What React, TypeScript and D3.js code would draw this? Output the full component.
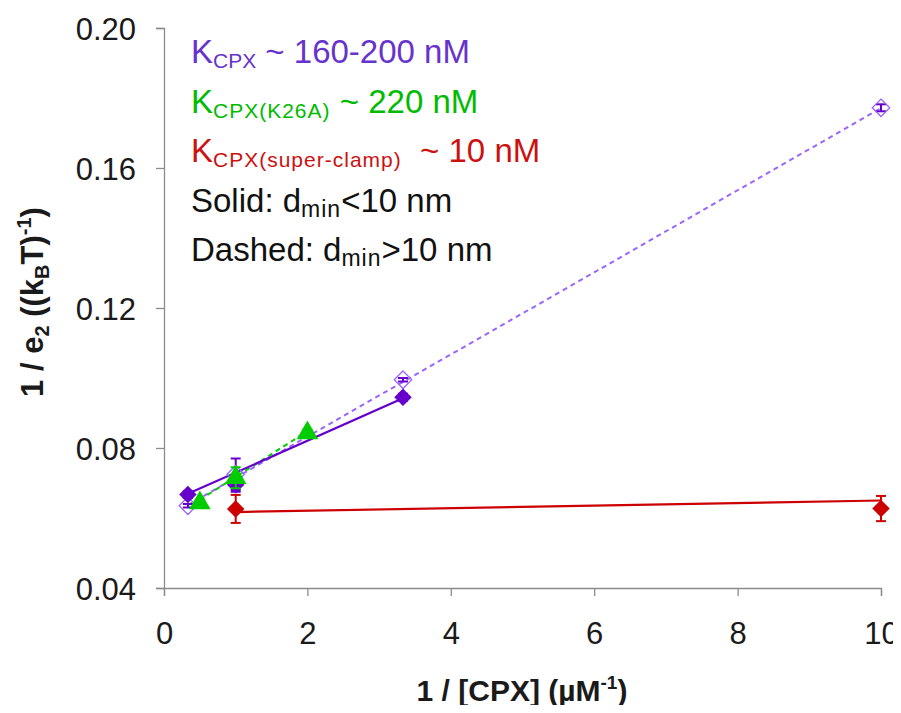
import React, { useRef, useEffect } from 'react'
import * as d3 from 'd3'

// 1/[CPX] values (uM^-1)
const wtX = [0.333, 1, 3.333]
const wtSolidY = [0.0667, 0.0695, 0.0945]
const wtSolidErr = [0.001, 0.002, 0.001]
const wtDashX = [0.333, 1, 3.333, 10]
const wtDashY = [0.0635, 0.0725, 0.0995, 0.1772]
const wtDashErr = [0.0005, 0.0045, 0.0005, 0.001]
const k26aX = [0.5, 1, 2]
const k26aY = [0.0643, 0.0715, 0.0843]
const k26aErr = [0.001, 0.003, 0.001]
const scX = [1, 10]
const scY = [0.0626, 0.0627]
const scErr = [0.004, 0.0036]

// trendline end points [x0, y0, x1, y1]
const wtSolidFit = [0.333, 0.0669, 3.333, 0.0942]
const wtDashFit = [0.333, 0.0637, 10, 0.1771]
const k26aFit = [0.5, 0.0652, 2, 0.0848]
const scFit = [1, 0.0617, 10, 0.0650]

const xTicks = [0, 2, 4, 6, 8, 10]
const yTicks = [0.04, 0.08, 0.12, 0.16, 0.2]

const PURPLE = '#6600cc'
const PURPLE_LIGHT = '#9966ff'
const GREEN = '#00cc00'
const RED = '#cc0000'

export default function App() {
    const ref = useRef<SVGSVGElement>(null)
    const w = 901
    const h = 713

    useEffect(() => {
        const svg = d3.select(ref.current)
        svg.selectAll('*').remove()

        const x = d3.scaleLinear().domain([0, 10]).range([164, 881])
        const y = d3.scaleLinear().domain([0.04, 0.2]).range([588, 28])
        const font = 'Liberation Sans, Arial, sans-serif'
        const axisColor = '#8c8c8c'

        // axes
        const xAxis = d3.axisBottom(x).tickValues(xTicks).tickSize(8).tickPadding(26).tickFormat(d3.format('d'))
        const gx = svg.append('g').attr('transform', 'translate(0,588)').call(xAxis)
        const yAxis = d3.axisLeft(y).tickValues(yTicks).tickSize(8).tickPadding(20).tickFormat(d3.format('.2f'))
        const gy = svg.append('g').attr('transform', 'translate(164,0)').call(yAxis)
        for (const g of [gx, gy]) {
            g.select('.domain').attr('stroke', axisColor).attr('stroke-width', 1.3)
            g.selectAll('.tick line').attr('stroke', axisColor).attr('stroke-width', 1.3)
            g.selectAll('.tick text')
                .attr('fill', '#1a1a1a')
                .style('font-family', font)
                .style('font-size', '31px')
        }
        gy.selectAll('.tick text').attr('dy', '0.36em')
        gx.selectAll('.tick text').attr('dy', '0.71em')

        // trendlines
        const fit = (f: number[], color: string, dash: string | null, width: number) => {
            const l = svg.append('line')
                .attr('x1', x(f[0])).attr('y1', y(f[1]))
                .attr('x2', x(f[2])).attr('y2', y(f[3]))
                .attr('stroke', color).attr('stroke-width', width)
            if (dash) l.attr('stroke-dasharray', dash)
        }
        fit(wtDashFit, PURPLE_LIGHT, '5,4', 2)
        fit(k26aFit, GREEN, '5,4', 2)
        fit(scFit, RED, null, 2.2)
        fit(wtSolidFit, PURPLE, null, 2.2)

        const errBars = (xs: number[], ys: number[], es: number[], color: string) => {
            xs.forEach((xv, i) => {
                const cx = x(xv)
                const g = svg.append('g').attr('stroke', color).attr('stroke-width', 2)
                g.append('line').attr('x1', cx).attr('x2', cx).attr('y1', y(ys[i] - es[i])).attr('y2', y(ys[i] + es[i]))
                g.append('line').attr('x1', cx - 5).attr('x2', cx + 5).attr('y1', y(ys[i] - es[i])).attr('y2', y(ys[i] - es[i]))
                g.append('line').attr('x1', cx - 5).attr('x2', cx + 5).attr('y1', y(ys[i] + es[i])).attr('y2', y(ys[i] + es[i]))
            })
        }

        const diamond = d3.symbol().type(d3.symbolDiamond2).size(195)
        const triangle = d3.symbol().type(d3.symbolTriangle).size(200)

        // open purple diamonds (dashed)
        errBars(wtDashX, wtDashY, wtDashErr, PURPLE)
        svg.selectAll('.open')
            .data(wtDashX)
            .enter()
            .append('path')
            .attr('d', diamond)
            .attr('transform', (d, i) => `translate(${x(d)},${y(wtDashY[i])})`)
            .attr('fill', 'none')
            .attr('stroke', PURPLE_LIGHT)
            .attr('stroke-width', 1.3)

        // super-clamp
        errBars(scX, scY, scErr, RED)
        svg.selectAll('.sc')
            .data(scX)
            .enter()
            .append('path')
            .attr('d', diamond)
            .attr('transform', (d, i) => `translate(${x(d)},${y(scY[i])})`)
            .attr('fill', RED)

        // filled purple
        errBars(wtX, wtSolidY, wtSolidErr, PURPLE)
        svg.selectAll('.wt')
            .data(wtX)
            .enter()
            .append('path')
            .attr('d', diamond)
            .attr('transform', (d, i) => `translate(${x(d)},${y(wtSolidY[i])})`)
            .attr('fill', PURPLE)

        // K26A triangles
        errBars(k26aX, k26aY, k26aErr, GREEN)
        svg.selectAll('.k26a')
            .data(k26aX)
            .enter()
            .append('path')
            .attr('d', triangle)
            .attr('transform', (d, i) => `translate(${x(d)},${y(k26aY[i])})`)
            .attr('fill', GREEN)

        // legend text: [text, subscript?, letter spacing]
        const legend = [
            { color: '#6633cc', parts: [['K', 0, 0], ['CPX', 1, 0], [' ~ 160-200 nM', 0, 0]] },
            { color: '#00bb00', parts: [['K', 0, 0], ['CPX(K26A)', 1, 1], [' ~ 220 nM', 0, 0]] },
            { color: '#cc1111', parts: [['K', 0, 0], ['CPX(super-clamp)', 1, 1], ['  ~ 10 nM', 0, 0]] },
            { color: '#111111', parts: [['Solid: d', 0, 0], ['min', 1, 1], ['<10 nm', 0, 0]] },
            { color: '#111111', parts: [['Dashed: d', 0, 0], ['min', 1, 1], ['>10 nm', 0, 0]] },
        ]
        legend.forEach((row, i) => {
            const t = svg.append('text')
                .attr('x', 191)
                .attr('y', 63 + i * 49.6)
                .attr('fill', row.color)
                .style('font-family', font)
                .style('font-size', '33px')
                .style('white-space', 'pre')
            row.parts.forEach(([s, sub, ls], j) => {
                const ts = t.append('tspan').text(s as string)
                if (sub) {
                    ts.style('font-size', (i > 2 ? 23 : 21) + 'px').attr('dy', 5)
                    if (ls) ts.style('letter-spacing', ls + 'px')
                } else if (j > 0) ts.attr('dy', -5)
            })
        })

        // axis titles
        const xt = svg.append('text')
            .attr('x', 522)
            .attr('y', 701)
            .attr('text-anchor', 'middle')
            .style('font-family', font)
            .style('font-size', '30px')
            .style('font-weight', 'bold')
            .attr('fill', '#1a1a1a')
        xt.append('tspan').text('1 / [CPX] (µM')
        xt.append('tspan').text('-1').style('font-size', '19px').attr('dy', -12)
        xt.append('tspan').text(')').attr('dy', 12)

        const yt = svg.append('text')
            .attr('transform', 'translate(43,302) rotate(-90)')
            .attr('text-anchor', 'middle')
            .style('font-family', font)
            .style('font-size', '31px')
            .style('font-weight', 'bold')
            .attr('fill', '#1a1a1a')
        yt.append('tspan').text('1 / e')
        yt.append('tspan').text('2').style('font-size', '20px').attr('dy', 6)
        yt.append('tspan').text(' ((k').attr('dy', -6)
        yt.append('tspan').text('B').style('font-size', '20px').attr('dy', 6)
        yt.append('tspan').text('T)').attr('dy', -6)
        yt.append('tspan').text('-1').style('font-size', '20px').attr('dy', -12)
        yt.append('tspan').text(')').attr('dy', 12)
    }, [])

    return (
        <div style={{ margin: -8 }}>
            <svg ref={ref} width={w} height={h} style={{ display: 'block', background: '#fff' }} />
        </div>
    )
}
